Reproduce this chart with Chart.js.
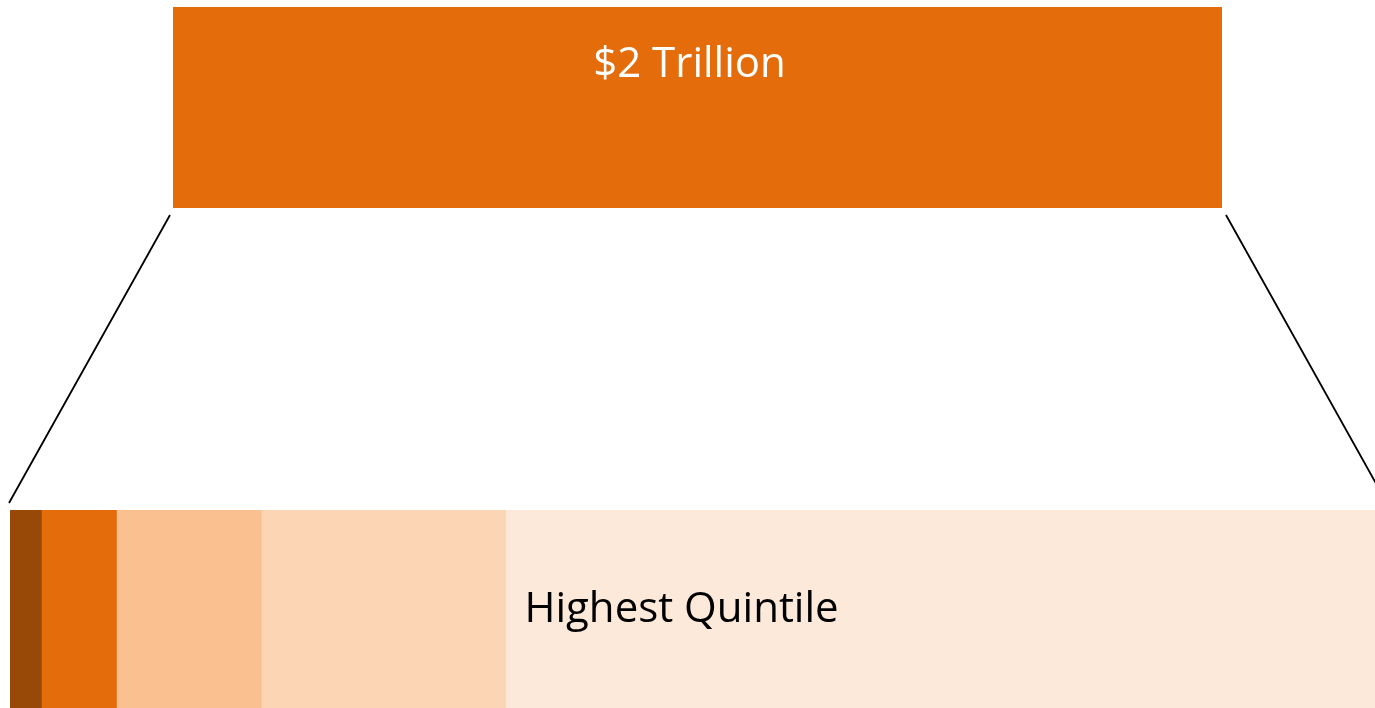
<!DOCTYPE html>
<html>
<head>
<meta charset="utf-8">
<script src="https://cdn.jsdelivr.net/npm/chart.js@4/dist/chart.umd.min.js"></script>
<style>
  html, body { margin: 0; padding: 0; background: #fff; overflow: hidden; }
  #wrap { position: relative; width: 1375px; height: 708px; }
  canvas { position: absolute; display: block; }
  #lines { left: 0; top: 0; }
  #top { left: 173px; top: 7px; }
  #bottom { left: 10px; top: 510px; }
</style>
</head>
<body>
<div id="wrap">
  <canvas id="lines" width="1375" height="708"></canvas>
  <canvas id="top" width="1049" height="201"></canvas>
  <canvas id="bottom" width="1365" height="198"></canvas>
</div>
<script>
// ---- data ----
const totalCategories = ['Total'];
const totalValues = [2];            // trillions of dollars
const totalLabel = '$2 Trillion';

const quintiles = ['Lowest Quintile', 'Second Quintile', 'Middle Quintile', 'Fourth Quintile', 'Highest Quintile'];
const shares = [2.3, 5.5, 10.6, 17.9, 63.7];   // percent of total
const labeledQuintile = 'Highest Quintile';

const quintileColors = ['#984807', '#E46C0A', '#FAC090', '#FCD5B5', '#FDE9D9'];
const totalColor = '#E46C0A';

const FONT = '"Open Sans", "Noto Sans", sans-serif';

// label plugin for top bar
const topLabel = {
  id: 'topLabel',
  afterDatasetsDraw(chart) {
    const el = chart.getDatasetMeta(0).data[0];
    const ctx = chart.ctx;
    const left = el.base, right = el.x, top = el.y - el.height / 2;
    ctx.save();
    ctx.fillStyle = '#ffffff';
    ctx.font = '42px ' + FONT;
    ctx.textAlign = 'center';
    ctx.textBaseline = 'alphabetic';
    ctx.fillText(totalLabel, (left + right) / 2 - 8, top + 70);
    ctx.restore();
  }
};

const bottomLabel = {
  id: 'bottomLabel',
  afterDatasetsDraw(chart) {
    const idx = quintiles.indexOf(labeledQuintile);
    const el = chart.getDatasetMeta(idx).data[0];
    const ctx = chart.ctx;
    ctx.save();
    ctx.fillStyle = '#000000';
    ctx.font = '42px ' + FONT;
    ctx.textAlign = 'left';
    ctx.textBaseline = 'alphabetic';
    ctx.fillText(labeledQuintile, el.base + 19, el.y + 13);
    ctx.restore();
  }
};

const topChart = new Chart(document.getElementById('top'), {
  type: 'bar',
  data: {
    labels: totalCategories,
    datasets: [{ label: 'Total', data: totalValues, backgroundColor: totalColor, borderWidth: 0,
                 barPercentage: 1, categoryPercentage: 1 }]
  },
  options: {
    indexAxis: 'y', responsive: false, animation: false, devicePixelRatio: 1,
    layout: { padding: 0 },
    plugins: { legend: { display: false }, tooltip: { enabled: false } },
    scales: { x: { display: false, min: 0, max: totalValues[0] }, y: { display: false } }
  },
  plugins: [topLabel]
});

const bottomChart = new Chart(document.getElementById('bottom'), {
  type: 'bar',
  data: {
    labels: ['Distribution'],
    datasets: quintiles.map((q, i) => ({
      label: q, data: [shares[i]], backgroundColor: quintileColors[i], borderWidth: 0,
      barPercentage: 1, categoryPercentage: 1
    }))
  },
  options: {
    indexAxis: 'y', responsive: false, animation: false, devicePixelRatio: 1,
    layout: { padding: 0 },
    plugins: { legend: { display: false }, tooltip: { enabled: false } },
    scales: {
      x: { display: false, stacked: true, min: 0, max: shares.reduce((a, b) => a + b, 0) },
      y: { display: false, stacked: true }
    }
  },
  plugins: [bottomLabel]
});

// connector lines from top bar corners to bottom bar
(function drawConnectors() {
  const tc = document.getElementById('top'), bc = document.getElementById('bottom');
  const tEl = topChart.getDatasetMeta(0).data[0];
  const bFirst = bottomChart.getDatasetMeta(0).data[0];
  const tLeft = tc.offsetLeft + tEl.base, tRight = tc.offsetLeft + tEl.x;
  const tBottom = tc.offsetTop + tEl.y + tEl.height / 2;
  const bLeft = bc.offsetLeft + bFirst.base;
  const bTop = bc.offsetTop + bFirst.y - bFirst.height / 2;
  const x0 = tLeft - 3, y0 = tBottom + 7;
  const x1 = bLeft - 1, y1 = bTop - 7;
  const ctx = document.getElementById('lines').getContext('2d');
  ctx.strokeStyle = '#000';
  ctx.lineWidth = 1.8;
  ctx.beginPath();
  ctx.moveTo(x0, y0); ctx.lineTo(x1, y1);
  const dx = x0 - x1;
  ctx.moveTo(tRight + 4, y0); ctx.lineTo(tRight + 4 + dx, y1);
  ctx.stroke();
})();
</script>
</body>
</html>
